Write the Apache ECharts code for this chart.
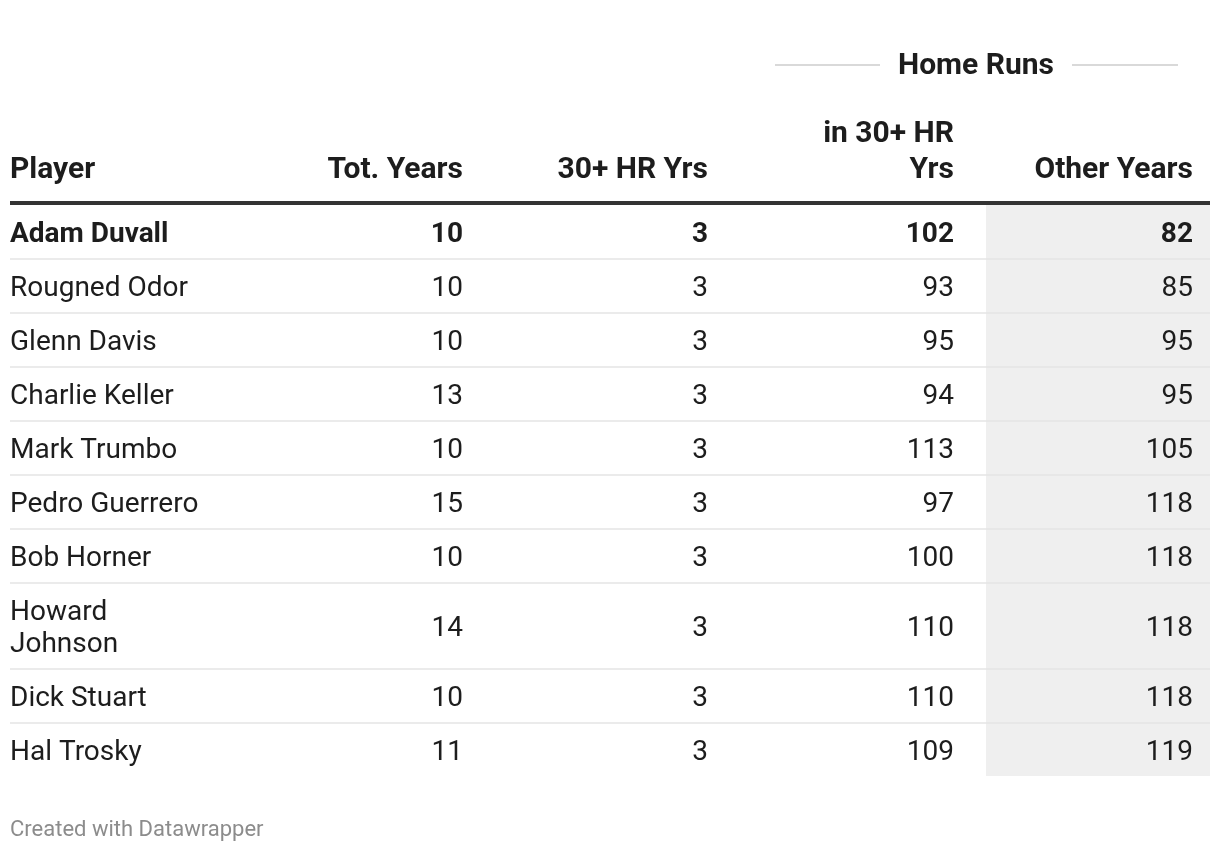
<!DOCTYPE html>
<html>
<head>
<meta charset="utf-8">
<script src="https://cdn.jsdelivr.net/npm/echarts@6/dist/echarts.min.js"></script>
<style>html,body{margin:0;padding:0;background:#fff}#c{width:1220px;height:852px}</style>
</head>
<body>
<div id="c"></div>
<script>
const players = ["Adam Duvall","Rougned Odor","Glenn Davis","Charlie Keller","Mark Trumbo","Pedro Guerrero","Bob Horner","Howard\nJohnson","Dick Stuart","Hal Trosky"];
const totYears = [10,10,10,13,10,15,10,14,10,11];
const hrYears30 = [3,3,3,3,3,3,3,3,3,3];
const hrIn30Yrs = [102,93,95,94,113,97,100,110,110,109];
const hrOtherYrs = [82,85,95,95,105,118,118,118,118,119];
const headers = ["Player","Tot. Years","30+ HR Yrs","in 30+ HR\nYrs","Other Years"];
const groupHeader = "Home Runs";
const footer = "Created with Datawrapper";

const FONT = 'Roboto, "Noto Sans", sans-serif';
const TXT = '#1d1d1d';
const colRight = [463, 708, 954, 1193];
const left = 10, right = 1210;
const headLineY = 203;
const rowH = 54, rowH2 = 86;
const shadeX = 986;

const g = [];
let totalH = 0;
players.forEach(p => { totalH += p.includes('\n') ? rowH2 : rowH; });
g.push({type:'rect', shape:{x:shadeX, y:headLineY+2, width:right-shadeX, height:totalH-1}, style:{fill:'#efefef'}, z:0});

// group header
g.push({type:'text', x:976, y:66, style:{text:groupHeader, font:'bold 30px '+FONT, fill:TXT, align:'center', verticalAlign:'middle'}, z:2});
g.push({type:'line', shape:{x1:775, y1:65, x2:880, y2:65}, style:{stroke:'#cccccc', lineWidth:1.5}, z:2});
g.push({type:'line', shape:{x1:1072, y1:65, x2:1178, y2:65}, style:{stroke:'#cccccc', lineWidth:1.5}, z:2});

// column headers
headers.forEach((h, i) => {
  const x = i === 0 ? left : colRight[i-1];
  const lines = h.split('\n').length;
  const cy = 170 - (lines - 1) * 18;
  g.push({type:'text', x:x, y:cy, style:{text:h, font:'bold 30px '+FONT, fill:TXT, align: i===0?'left':'right', verticalAlign:'middle', lineHeight:36}, z:2});
});
g.push({type:'line', shape:{x1:left, y1:headLineY, x2:right, y2:headLineY}, style:{stroke:'#333333', lineWidth:4}, z:3});

// rows
let y = headLineY + 2;
players.forEach((p, r) => {
  const h = p.includes('\n') ? rowH2 : rowH;
  const cy = y + h/2 + 3;
  const font = (r === 0 ? 'bold ' : '') + '28px ' + FONT;
  const vals = [totYears[r], hrYears30[r], hrIn30Yrs[r], hrOtherYrs[r]];
  g.push({type:'text', x:left, y:cy, style:{text:p, font:font, fill:TXT, align:'left', verticalAlign:'middle', lineHeight:32}, z:2});
  vals.forEach((v, c) => {
    g.push({type:'text', x:colRight[c], y:cy, style:{text:String(v), font:font, fill:TXT, align:'right', verticalAlign:'middle'}, z:2});
  });
  y += h;
  if (r < players.length - 1) {
    g.push({type:'line', shape:{x1:left, y1:y, x2:right, y2:y}, style:{stroke:'#e4e4e4', lineWidth:1.5}, z:3});
  }
});

g.push({type:'text', x:left, y:830, style:{text:footer, font:'22px '+FONT, fill:'#8c8c8c', align:'left', verticalAlign:'middle'}, z:2});

const chart = echarts.init(document.getElementById('c'), null, {renderer:'canvas'});
chart.setOption({backgroundColor:'#ffffff', animation:false, graphic:{elements:g}});
</script>
</body>
</html>
